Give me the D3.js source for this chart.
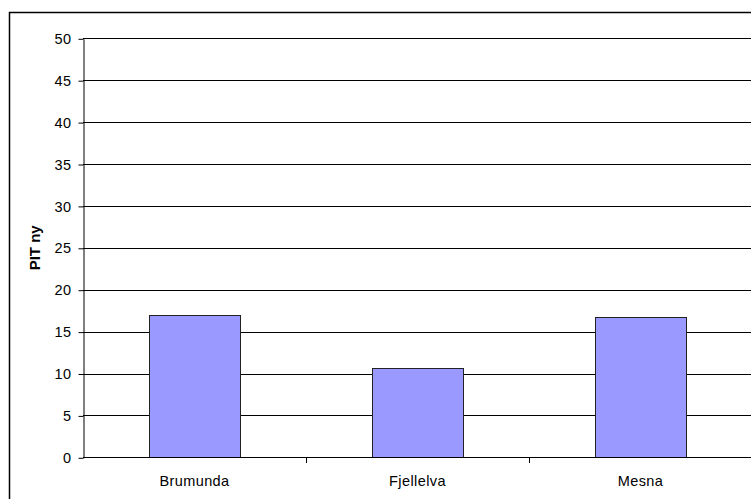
<!DOCTYPE html>
<html><head><meta charset="utf-8">
<script src="https://cdn.jsdelivr.net/npm/d3@7"></script>
<style>body{margin:0;background:#fff}svg{display:block}text{font-family:"Liberation Sans",Arial,sans-serif}</style>
</head><body>
<script>
const categories = ["Brumunda", "Fjellelva", "Mesna"];
const values = [17.0, 10.6, 16.8];
const yTicks = [0, 5, 10, 15, 20, 25, 30, 35, 40, 45, 50];
const yLabel = "PIT ny";

(function () {
const W = 751, H = 499;
const FS = 14.5;
const svg = d3.select("body").append("svg").attr("width", W).attr("height", H);
svg.append("rect").attr("x", 9.5).attr("y", 12.5).attr("width", 800).attr("height", 600)
  .attr("fill", "#fff").attr("stroke", "#000").attr("stroke-width", 1.5);

const mLeft = 83, mRight = 752, mTop = 38.3, mBottom = 457.3;
const x = d3.scaleBand().domain(categories).range([mLeft, mRight]).paddingInner(0).paddingOuter(0);
const y = d3.scaleLinear().domain([0, 50]).range([mBottom, mTop]);

// gridlines
svg.append("g").selectAll("line").data(yTicks.filter(d => d > 0)).join("line")
  .attr("x1", mLeft).attr("x2", mRight)
  .attr("y1", d => Math.round(y(d)) + 0.5).attr("y2", d => Math.round(y(d)) + 0.5)
  .attr("stroke", "#000").attr("stroke-width", 1);

// y axis
const yAxis = d3.axisLeft(y).tickValues(yTicks).tickSize(5).tickPadding(7).tickSizeOuter(0);
const gy = svg.append("g").attr("transform", `translate(${mLeft + 0.5},0.5)`).call(yAxis);
gy.select(".domain").attr("stroke", "#000");
gy.selectAll(".tick line").attr("stroke", "#000");
gy.selectAll("text").attr("font-size", FS).attr("fill", "#000").attr("letter-spacing", 0.4)
  .attr("font-family", '"Liberation Sans",Arial,sans-serif');

// bars
const bw = 91;
svg.append("g").selectAll("rect").data(values).join("rect")
  .attr("x", (d, i) => Math.round(x(categories[i]) + x.bandwidth() / 2 - bw / 2) + 0.5)
  .attr("y", d => Math.round(y(d)) + 0.5)
  .attr("width", bw)
  .attr("height", d => Math.round(y(0)) - Math.round(y(d)))
  .attr("fill", "#9999FF").attr("stroke", "#222").attr("stroke-width", 1);

// x axis
const xAxis = d3.axisBottom(x).tickSize(0).tickPadding(18);
const gx = svg.append("g").attr("transform", `translate(0,${Math.round(mBottom) + 0.5})`).call(xAxis);
gx.select(".domain").remove();
svg.append("line").attr("x1", mLeft).attr("x2", mRight)
  .attr("y1", Math.round(mBottom) + 0.5).attr("y2", Math.round(mBottom) + 0.5).attr("stroke", "#000");
gx.selectAll("text").attr("font-size", FS).attr("fill", "#000").attr("letter-spacing", 0.4)
  .attr("font-family", '"Liberation Sans",Arial,sans-serif');
// category separator ticks
svg.append("g").selectAll("line").data(categories.slice(1)).join("line")
  .attr("x1", d => Math.round(x(d)) + 0.5).attr("x2", d => Math.round(x(d)) + 0.5)
  .attr("y1", Math.round(mBottom)).attr("y2", Math.round(mBottom) + 6)
  .attr("stroke", "#000");

// y label
svg.append("text").attr("transform", `translate(40,${(mTop + mBottom) / 2}) rotate(-90)`)
  .attr("text-anchor", "middle").attr("font-size", 15).attr("font-weight", "bold")
  .text(yLabel);
})();
</script>
</body></html>
